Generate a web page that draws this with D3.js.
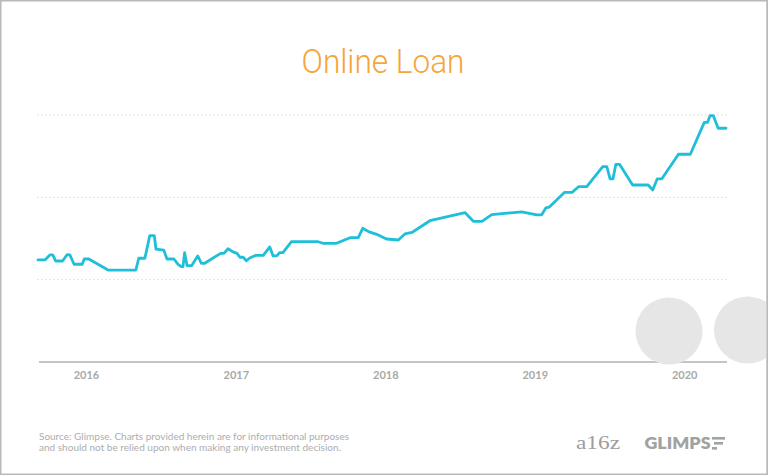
<!DOCTYPE html>
<html>
<head>
<meta charset="utf-8">
<script src="https://cdn.jsdelivr.net/npm/d3@7"></script>
<style>
  html, body { margin: 0; padding: 0; background: #fff; }
  svg { display: block; }
</style>
</head>
<body>
<svg id="chart" width="768" height="475"></svg>
<script>
// ---- Data ----
const dates = [
  "2015-09-06","2015-09-23","2015-10-05","2015-10-12","2015-10-19","2015-11-05","2015-11-16","2015-11-23",
  "2015-12-03","2015-12-23","2015-12-28","2016-01-08","2016-02-24","2016-05-02","2016-05-09","2016-05-24",
  "2016-06-05","2016-06-16","2016-06-20","2016-07-09","2016-07-17","2016-08-03","2016-08-13","2016-08-21",
  "2016-08-25","2016-08-29","2016-09-04","2016-09-15","2016-09-30","2016-10-09","2016-10-17","2016-11-25",
  "2016-12-03","2016-12-13","2016-12-24","2017-01-04","2017-01-11","2017-01-19","2017-01-27","2017-02-04",
  "2017-02-19","2017-03-09","2017-03-25","2017-04-02","2017-04-11","2017-04-18","2017-04-26","2017-05-17",
  "2017-07-21","2017-08-02","2017-09-04","2017-10-07","2017-10-27","2017-11-07","2017-11-21","2017-12-11",
  "2018-01-04","2018-02-02","2018-02-18","2018-03-07","2018-04-20","2018-07-15","2018-08-04","2018-08-25",
  "2018-09-18","2018-11-30","2019-01-06","2019-01-18","2019-01-28","2019-02-05","2019-03-15","2019-04-02",
  "2019-04-18","2019-05-08","2019-06-16","2019-06-26","2019-07-04","2019-07-11","2019-07-18","2019-07-27",
  "2019-08-28","2019-10-05","2019-10-16","2019-10-27","2019-11-07","2019-12-18","2020-01-16","2020-02-19",
  "2020-02-27","2020-03-04","2020-03-12","2020-03-24","2020-04-12"
];
const values = [
  1.24,1.24,1.30,1.30,1.227,1.227,1.303,1.30,
  1.187,1.187,1.251,1.251,1.117,1.117,1.26,1.26,
  1.536,1.536,1.372,1.36,1.251,1.251,1.187,1.158,
  1.158,1.328,1.17,1.17,1.288,1.199,1.199,1.32,
  1.32,1.376,1.34,1.32,1.272,1.272,1.23,1.263,
  1.296,1.296,1.397,1.288,1.288,1.328,1.328,1.461,
  1.461,1.442,1.442,1.51,1.51,1.624,1.583,1.551,
  1.494,1.482,1.555,1.573,1.716,1.813,1.709,1.709,
  1.789,1.824,1.788,1.788,1.871,1.88,2.061,2.061,
  2.129,2.129,2.372,2.372,2.223,2.223,2.401,2.401,
  2.15,2.15,2.089,2.223,2.223,2.523,2.523,2.911,
  2.911,2.992,2.992,2.839,2.839
];
const yearTicks = ["2016","2017","2018","2019","2020"];
const gridValues = [1, 2, 3];
const title = "Online Loan";
const sourceLines = [
  "Source: Glimpse. Charts provided herein are for informational purposes",
  "and should not be relied upon when making any investment decision."
];
const sourceWidths = [310, 302];

// ---- Build ----
const parse = d3.timeParse("%Y-%m-%d");
const data = dates.map((d, i) => ({ date: parse(d), value: values[i] }));

const W = 768, H = 475;
const svg = d3.select("#chart");

// frame
svg.append("rect").attr("x", 0.75).attr("y", 0.75).attr("width", W - 1.5).attr("height", H - 1.5)
  .attr("fill", "#fff").attr("stroke", "#b9b9b9").attr("stroke-width", 1.5);

const x = d3.scaleTime()
  .domain(d3.extent(data, d => d.date))
  .range([38, 726]);
const y = d3.scaleLinear().domain([0, 3]).range([362, 115]);

// title
svg.append("text")
  .attr("x", 383).attr("y", 72.5)
  .attr("text-anchor", "middle")
  .attr("font-family", "Roboto, 'Open Sans', sans-serif")
  .attr("font-weight", 300)
  .attr("font-size", 33)
  .attr("fill", "#f5a53a")
  .attr("textLength", 163).attr("lengthAdjust", "spacingAndGlyphs")
  .text(title);

// gridlines
svg.append("g").selectAll("line").data(gridValues).join("line")
  .attr("x1", x.range()[0] - 1).attr("x2", x.range()[1] + 1)
  .attr("y1", d => y(d)).attr("y2", d => y(d))
  .attr("stroke", "#e2e2e2").attr("stroke-width", 1)
  .attr("stroke-dasharray", "2,2");

// x axis
const tickDates = yearTicks.map(t => parse(t + "-01-01"));
const xAxis = d3.axisBottom(x)
  .tickValues(tickDates)
  .tickFormat(d3.timeFormat("%Y"))
  .tickSize(0).tickPadding(9);
const gx = svg.append("g").attr("transform", `translate(0,${y(0)})`).call(xAxis);
gx.select(".domain").attr("stroke", "#c4c4c4").attr("stroke-width", 2)
  .attr("d", `M${x.range()[0] + 1},0H${x.range()[1] + 1}`);
gx.selectAll("text")
  .attr("font-family", "Lato, 'Open Sans', sans-serif")
  .attr("font-weight", 700)
  .attr("font-size", 11)
  .attr("fill", "#a9a9a9");

// line
const line = d3.line().x(d => x(d.date)).y(d => y(d.value));
svg.append("path").datum(data)
  .attr("d", line)
  .attr("fill", "none")
  .attr("stroke", "#20bfd9")
  .attr("stroke-width", 2.8)
  .attr("stroke-linejoin", "round")
  .attr("stroke-linecap", "round");

// decorative gray circles
svg.append("circle").attr("cx", 669).attr("cy", 331).attr("r", 33.5).attr("fill", "#e6e6e7");
svg.append("circle").attr("cx", 747.5).attr("cy", 330).attr("r", 33.5).attr("fill", "#e6e6e7");
// re-draw right frame edge over the circle
svg.append("line").attr("x1", W - 0.75).attr("x2", W - 0.75).attr("y1", 0).attr("y2", H)
  .attr("stroke", "#b9b9b9").attr("stroke-width", 1.5);

// source note
svg.append("g").selectAll("text").data(sourceLines).join("text")
  .attr("x", 39).attr("y", (d, i) => 439.5 + i * 11.5)
  .attr("font-family", "Lato, 'Open Sans', sans-serif")
  .attr("font-size", 9.5)
  .attr("fill", "#adadad")
  .attr("textLength", (d, i) => sourceWidths[i]).attr("lengthAdjust", "spacingAndGlyphs")
  .text(d => d);

// logos
svg.append("text").attr("x", 576).attr("y", 448.5)
  .attr("font-family", "'Liberation Serif', 'DejaVu Serif', serif")
  .attr("font-size", 18).attr("fill", "#9d9d9d")
  .attr("textLength", 44).attr("lengthAdjust", "spacingAndGlyphs")
  .text("a16z");
svg.append("text").attr("x", 644.5).attr("y", 448.5)
  .attr("font-family", "Lato, 'Open Sans', sans-serif")
  .attr("font-weight", 800)
  .attr("font-size", 16).attr("fill", "#a2a2a2")
  .attr("textLength", 66).attr("lengthAdjust", "spacingAndGlyphs")
  .text("GLIMPS");
const eg = svg.append("g").attr("fill", "#a2a2a2");
eg.append("rect").attr("x", 712).attr("y", 437).attr("width", 13).attr("height", 2.6);
eg.append("rect").attr("x", 714).attr("y", 442).attr("width", 9).attr("height", 2.6);
eg.append("rect").attr("x", 712).attr("y", 447).attr("width", 5).attr("height", 2.6);
</script>
</body>
</html>
